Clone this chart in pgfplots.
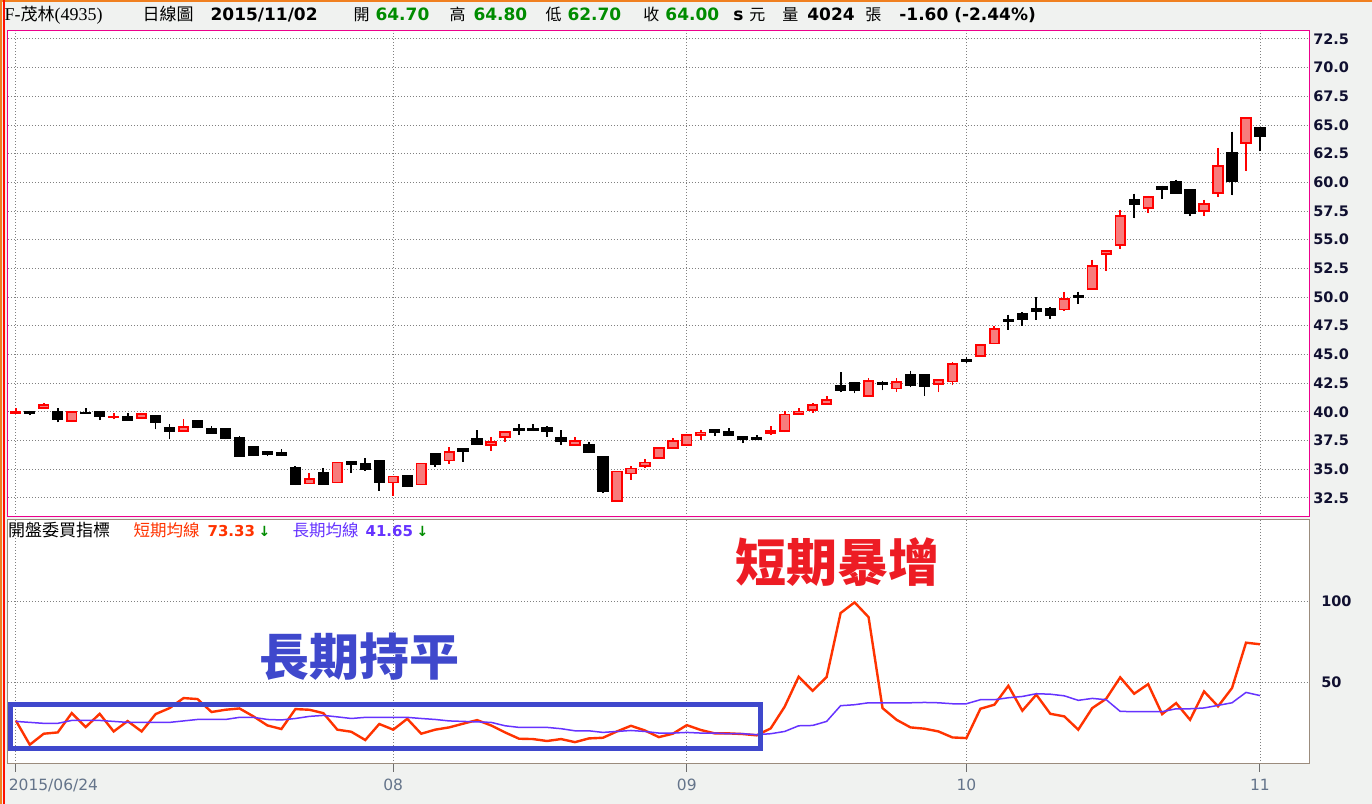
\documentclass[border=0pt]{standalone}
\usepackage{fontspec}
\setmainfont{DejaVu Sans}
\newfontfamily\cjk{Noto Sans CJK TC}
\newfontfamily\serif{Liberation Serif}
\usepackage{pgfplots}
\pgfplotsset{compat=1.18}
\usepgfplotslibrary{statistics}
\usetikzlibrary{backgrounds}
\usepackage{pgfplotstable}

\definecolor{bg}{RGB}{240,242,240}
\definecolor{cpink}{RGB}{247,124,124}
\definecolor{cred}{RGB}{255,0,0}
\definecolor{sline}{RGB}{255,51,0}
\definecolor{lline}{RGB}{102,51,255}
\definecolor{navy}{RGB}{16,16,48}
\definecolor{slate}{RGB}{100,116,138}
\definecolor{grn}{RGB}{0,140,0}
\definecolor{indigo}{RGB}{63,72,204}
\definecolor{pred}{RGB}{237,28,36}
\definecolor{brd}{RGB}{155,140,125}
\definecolor{org}{RGB}{240,128,32}
\definecolor{gridc}{RGB}{128,128,128}
\definecolor{tickc}{RGB}{110,110,110}

\newcommand{\fs}[1]{\fontsize{#1}{#1}\selectfont}
% \cu{i}{low}{open}{close}{high}  (up, red)   \cd{i}{low}{close}{open}{high} (down, black)
\newcommand{\cu}[5]{\addplot[up, boxplot prepared={draw position=#1, lower whisker=#2, lower quartile=#3, median=#3, upper quartile=#4, upper whisker=#5}] coordinates {};}
\newcommand{\cd}[5]{\addplot[dn, boxplot prepared={draw position=#1, lower whisker=#2, lower quartile=#3, median=#3, upper quartile=#4, upper whisker=#5}] coordinates {};}

\pgfplotstableread{
i s l
0 26.3 25.7
1 11.3 25.1
2 18.1 24.5
3 18.9 24.5
4 30.8 26.3
5 22.2 26.3
6 30.4 26.3
7 19.5 25.7
8 25.9 25.1
9 19.5 25.1
10 30.2 25.1
11 33.9 25.1
12 40.1 26.0
13 39.5 26.9
14 31.5 26.9
15 32.9 26.9
16 33.7 28.2
17 28.8 28.2
18 23.2 26.9
19 21.0 26.6
20 33.3 27.5
21 32.9 28.8
22 30.8 29.4
23 20.6 28.5
24 19.3 27.5
25 14.2 28.2
26 24.1 28.2
27 20.6 28.2
28 27.3 28.2
29 18.1 27.5
30 20.6 26.9
31 22.0 26.0
32 24.3 25.7
33 26.5 25.4
34 23.2 25.1
35 18.9 23.0
36 15.0 22.0
37 14.8 22.0
38 13.6 22.0
39 14.8 21.2
40 12.9 19.9
41 15.2 19.9
42 15.6 18.9
43 19.5 19.5
44 23.0 20.1
45 20.1 19.5
46 16.0 18.5
47 18.1 18.5
48 23.4 18.9
49 20.4 18.5
50 18.3 18.5
51 18.3 18.1
52 17.9 18.1
53 17.1 17.5
54 21.4 18.1
55 34.8 19.5
56 53.3 23.0
57 44.6 23.2
58 53.1 25.7
59 92.6 35.4
60 99.2 36.0
61 90.1 37.2
62 33.9 37.2
63 26.7 37.2
64 22.0 37.2
65 21.2 37.4
66 19.5 37.2
67 15.8 36.6
68 15.4 36.6
69 33.5 39.1
70 36.0 39.1
71 47.7 40.3
72 32.3 41.1
73 42.2 42.8
74 30.4 42.5
75 28.8 41.5
76 20.6 38.7
77 33.9 39.9
78 39.7 39.1
79 52.9 31.9
80 42.8 31.7
81 48.7 31.7
82 30.2 31.7
83 37.0 33.5
84 26.7 33.5
85 44.2 34.0
86 35.0 35.6
87 46.3 37.2
88 74.3 43.6
89 73.33 41.65
}\ind

\begin{document}
\begin{tikzpicture}
% ---------------- lower panel: indicator (reference frame) ----------------
\begin{axis}[
  name=lo, anchor=south west, scale only axis,
  width=1301.5pt, height=244.7pt,
  xmin=-0.558, xmax=92.51, ymin=-0.43, ymax=150.6,
  axis background/.style={fill=white},
  axis line style={draw=brd, line width=1pt},
  xtick={0,27,48,68,89},
  xticklabels={{\makebox[0pt][l]{\kern-7pt 2015/06/24}},08,09,10,11},
  ytick={50,100},
  grid=major,
  major grid style={draw=gridc, line width=0.9pt, dash pattern=on 1pt off 2pt},
  xtick pos=lower, tick align=outside, major tick length=8pt,
  xtick style={draw=tickc, line width=1pt},
  ytick style={draw=none},
  yticklabel pos=right,
  /pgf/number format/assume math mode=true,
  yticklabel={\pgfmathprintnumber[fixed]{\tick}},
  yticklabel style={font=\fs{14.5}\bfseries, text=navy, anchor=west, inner sep=0pt, xshift=4pt},
  xticklabel style={font=\fs{15.5}, text=slate, anchor=north, inner sep=0pt, yshift=-7pt},
]
\addplot[sline, line width=2.4pt] table[x=i, y=s] {\ind};
\addplot[lline, line width=1.5pt] table[x=i, y=l] {\ind};
\coordinate (L0) at (rel axis cs:0,0);
\end{axis}

% ---------------- upper panel: candlesticks ----------------
\begin{axis}[
  at={(L0)}, anchor=south west, yshift=247pt, scale only axis,
  width=1301.5pt, height=486pt,
  xmin=-0.558, xmax=92.51, ymin=30.85, ymax=73.19,
  axis background/.style={fill=white},
  axis line style={draw=magenta, line width=1pt},
  xtick={0,27,48,68,89}, xticklabels={,,,,},
  ytick={32.5,35,37.5,40,42.5,45,47.5,50,52.5,55,57.5,60,62.5,65,67.5,70,72.5},
  grid=major,
  major grid style={draw=gridc, line width=0.9pt, dash pattern=on 1pt off 2pt},
  major tick length=0pt,
  tick style={draw=none},
  yticklabel pos=right,
  /pgf/number format/assume math mode=true,
  yticklabel={\pgfmathprintnumber[fixed,fixed zerofill,precision=1]{\tick}},
  yticklabel style={font=\fs{14.5}\bfseries, text=navy, anchor=west, inner sep=0pt, xshift=4pt},
  up/.style={draw=cred, fill=cpink, line width=1.8pt, solid},
  dn/.style={draw=black, fill=black, line width=1.8pt, solid},
  boxplot/draw direction=y,
  boxplot/box extend=0.68, boxplot/whisker extend=0,
]
\cu{0}{39.88}{39.88}{40.0}{40.35}
\cd{1}{39.7}{39.9}{40.0}{40.1}
\cu{2}{40.23}{40.35}{40.61}{40.81}
\cd{3}{39.08}{39.36}{40.03}{40.29}
\cu{4}{39.1}{39.19}{40.0}{40.0}
\cd{5}{39.88}{39.88}{39.94}{40.29}
\cd{6}{39.28}{39.62}{40.03}{40.03}
\cu{7}{39.34}{39.51}{39.6}{39.94}
\cd{8}{39.28}{39.28}{39.6}{39.86}
\cu{9}{39.48}{39.48}{39.83}{39.94}
\cd{10}{38.47}{39.1}{39.68}{39.68}
\cd{11}{37.6}{38.32}{38.64}{38.9}
\cu{12}{38.35}{38.35}{38.7}{39.34}
\cd{13}{38.55}{38.67}{39.25}{39.25}
\cd{14}{38.15}{38.15}{38.55}{38.73}
\cd{15}{37.6}{37.69}{38.55}{38.55}
\cd{16}{36.16}{36.16}{37.69}{37.86}
\cd{17}{36.13}{36.24}{36.9}{36.9}
\cd{18}{36.13}{36.33}{36.5}{36.59}
\cd{19}{36.13}{36.21}{36.42}{36.73}
\cd{20}{33.61}{33.73}{35.09}{35.26}
\cu{21}{33.76}{33.76}{34.13}{34.65}
\cd{22}{33.73}{33.73}{34.65}{35.09}
\cu{23}{33.84}{33.84}{35.58}{35.58}
\cd{24}{34.68}{35.46}{35.61}{35.61}
\cd{25}{34.83}{35.0}{35.49}{35.95}
\cd{26}{33.12}{33.9}{35.69}{35.78}
\cu{27}{32.69}{33.84}{34.36}{34.36}
\cd{28}{33.44}{33.55}{34.39}{34.48}
\cu{29}{33.67}{33.67}{35.49}{35.49}
\cd{30}{35.2}{35.46}{36.3}{36.3}
\cu{31}{35.43}{35.75}{36.53}{36.9}
\cd{32}{35.64}{36.59}{36.79}{36.79}
\cd{33}{37.2}{37.2}{37.66}{38.38}
\cu{34}{36.59}{37.14}{37.4}{37.83}
\cu{35}{37.37}{37.83}{38.27}{38.27}
\cd{36}{37.98}{38.41}{38.47}{38.9}
\cd{37}{38.32}{38.41}{38.52}{38.9}
\cd{38}{37.8}{38.32}{38.61}{38.73}
\cd{39}{37.11}{37.46}{37.75}{38.38}
\cu{40}{37.14}{37.14}{37.49}{37.83}
\cd{41}{36.39}{36.53}{37.08}{37.4}
\cd{42}{32.89}{33.12}{36.1}{36.1}
\cu{43}{32.2}{32.2}{34.8}{34.8}
\cu{44}{34.08}{34.62}{35.06}{35.32}
\cu{45}{35.09}{35.29}{35.58}{35.92}
\cu{46}{36.01}{36.01}{36.88}{36.88}
\cu{47}{36.88}{36.88}{37.49}{37.75}
\cu{48}{37.08}{37.08}{38.01}{38.01}
\cu{49}{37.54}{38.0}{38.2}{38.44}
\cd{50}{37.89}{38.24}{38.44}{38.44}
\cd{51}{37.89}{37.98}{38.29}{38.55}
\cd{52}{37.28}{37.63}{37.83}{37.83}
\cd{53}{37.63}{37.63}{37.77}{37.95}
\cu{54}{37.98}{38.15}{38.35}{38.73}
\cu{55}{38.2}{38.32}{39.77}{40.09}
\cu{56}{39.71}{39.83}{40.03}{40.29}
\cu{57}{39.88}{40.14}{40.61}{40.75}
\cu{58}{40.6}{40.69}{41.03}{41.41}
\cd{59}{41.7}{41.87}{42.27}{43.48}
\cd{60}{41.61}{41.87}{42.53}{42.61}
\cu{61}{41.38}{41.38}{42.7}{42.96}
\cd{62}{41.86}{42.41}{42.56}{42.7}
\cu{63}{41.73}{42.03}{42.63}{42.92}
\cd{64}{42.12}{42.3}{43.2}{43.58}
\cd{65}{41.42}{42.21}{43.2}{43.2}
\cu{66}{41.69}{42.41}{42.76}{42.76}
\cu{67}{42.3}{42.65}{44.16}{44.33}
\cd{68}{44.25}{44.39}{44.53}{44.8}
\cu{69}{44.83}{44.83}{45.81}{45.9}
\cu{70}{45.9}{45.96}{47.21}{47.47}
\cd{71}{47.15}{47.88}{47.99}{48.46}
\cd{72}{47.5}{48.05}{48.52}{48.66}
\cd{73}{48.02}{48.75}{48.98}{49.97}
\cd{74}{48.11}{48.4}{48.95}{49.16}
\cu{75}{48.81}{48.92}{49.83}{50.47}
\cd{76}{49.42}{50.0}{50.12}{50.47}
\cu{77}{50.64}{50.7}{52.73}{53.27}
\cu{78}{52.24}{53.75}{54.01}{54.01}
\cu{79}{54.16}{54.51}{57.09}{57.62}
\cd{80}{56.86}{58.08}{58.49}{59.01}
\cu{81}{57.29}{57.76}{58.75}{58.84}
\cd{82}{58.58}{59.39}{59.62}{59.71}
\cd{83}{59.04}{59.04}{60.06}{60.23}
\cd{84}{57.03}{57.3}{59.36}{59.36}
\cu{85}{57.03}{57.5}{58.11}{58.49}
\cu{86}{58.69}{59.07}{61.42}{63.02}
\cd{87}{58.87}{60.09}{62.59}{64.42}
\cu{88}{60.96}{63.43}{65.60}{65.61}
\cd{89}{62.70}{64.00}{64.70}{64.80}
\end{axis}

% ---------------- everything else, in a frame whose origin is the page corner ----------------
\begin{scope}[shift={(L0)}, xshift=-7.5pt, yshift=-40pt, x=1pt, y=1pt]
\begin{pgfonlayer}{background}
\fill[bg] (0,0) rectangle (1372,804);
\end{pgfonlayer}
\fill[org] (0,802) rectangle (1372,804);
\fill[org] (0,0) rectangle (2,804);
\fill[red!85!orange] (3,0) rectangle (4.6,804);

\begin{scope}[every node/.style={anchor=base west, inner sep=0pt}]
\node at (4,783) {\fs{18}\serif F-{\cjk\fs{17}茂林}(4935)};
\node at (142,783) {\cjk\fs{17}日線圖};
\node at (210,783) {\fs{17}\bfseries 2015/11/02};
\node at (353,783) {\cjk\fs{16}開};
\node at (375,783) {\fs{17}\bfseries\color{grn}64.70};
\node at (449,783) {\cjk\fs{16}高};
\node at (473,783) {\fs{17}\bfseries\color{grn}64.80};
\node at (545,783) {\cjk\fs{16}低};
\node at (567,783) {\fs{17}\bfseries\color{grn}62.70};
\node at (643,783) {\cjk\fs{16}收};
\node at (665,783) {\fs{17}\bfseries\color{grn}64.00};
\node at (733,783) {\fs{17}\bfseries s};
\node at (749,783) {\cjk\fs{16}元};
\node at (782,783) {\cjk\fs{16}量};
\node at (807,783) {\fs{17}\bfseries 4024};
\node at (865,783) {\cjk\fs{16}張};
\node at (899,783) {\fs{17}\bfseries -1.60 (-2.44\%)};

\node at (7.5,267) {\cjk\fs{17}開盤委買指標};
\node at (133,267) {\cjk\fs{16.5}\color{sline}短期均線};
\node at (207,267) {\fs{15}\bfseries\color{sline}73.33};
\node at (258,267) {\fs{14}\bfseries\color{grn}↓};
\node at (292,267) {\cjk\fs{16.5}\color{lline}長期均線};
\node at (365,267) {\fs{15}\bfseries\color{lline}41.65};
\node at (416,267) {\fs{14}\bfseries\color{grn}↓};
\end{scope}

\draw[indigo, line width=5pt] (10,99.5) rectangle (760.5,55);
\node[inner sep=0pt, text=indigo] at (359.5,147) {\cjk\bfseries\fs{50}長期持平};
\node[inner sep=0pt, text=pred] at (837.5,241.5) {\cjk\bfseries\fs{51}短期暴增};
\end{scope}
\end{tikzpicture}
\end{document}
